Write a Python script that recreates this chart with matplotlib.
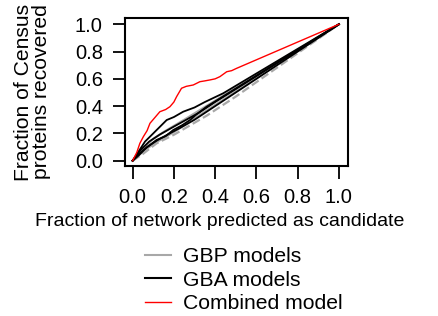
import matplotlib
matplotlib.use("Agg")
import matplotlib.pyplot as plt
from matplotlib.lines import Line2D

plt.rcParams['font.family'] = ['Liberation Sans', 'DejaVu Sans']

# combined model (red)
x_red = [0, 0.02, 0.035, 0.052, 0.07, 0.084, 0.11, 0.132, 0.16, 0.181, 0.2, 0.213,
         0.237, 0.26, 0.294, 0.326, 0.35, 0.375, 0.4, 0.423, 0.456, 0.48, 0.504, 1.0]
y_red = [0, 0.06, 0.127, 0.176, 0.22, 0.274, 0.32, 0.359, 0.375, 0.396, 0.43, 0.469,
         0.531, 0.545, 0.555, 0.579, 0.585, 0.592, 0.60, 0.616, 0.652, 0.66, 0.677, 1.0]

# GBA models (black)
gba_x = [
    [0, 0.03, 0.06, 0.1, 0.165, 0.2, 0.245, 0.3, 0.35, 0.439, 1],
    [0, 0.04, 0.08, 0.13, 0.2, 0.26, 0.32, 0.4, 1],
    [0, 0.052, 0.116, 0.16, 0.197, 0.24, 0.278, 0.31, 0.359, 1],
    [0, 0.03, 0.07, 0.12, 0.18, 0.23, 0.3, 0.36, 1],
]
gba_y = [
    [0, 0.07, 0.14, 0.2, 0.298, 0.32, 0.359, 0.39, 0.43, 0.494, 1],
    [0, 0.08, 0.14, 0.19, 0.25, 0.3, 0.35, 0.43, 1],
    [0, 0.078, 0.152, 0.18, 0.225, 0.26, 0.298, 0.34, 0.396, 1],
    [0, 0.04, 0.1, 0.15, 0.2, 0.24, 0.3, 0.36, 1],
]

# GBP models (grey), first one dashed
gbp_x = [
    [0, 0.05, 0.116, 0.2, 0.359, 0.5, 1],
    [0, 0.05, 0.1, 0.15, 0.25, 0.4, 1],
    [0, 0.06, 0.12, 0.2, 0.3, 1],
]
gbp_y = [
    [0, 0.05, 0.127, 0.19, 0.33, 0.47, 1],
    [0, 0.09, 0.16, 0.21, 0.3, 0.44, 1],
    [0, 0.08, 0.14, 0.21, 0.31, 1],
]
gbp_style = ['--', '-', '-']

ticks = [0.0, 0.2, 0.4, 0.6, 0.8, 1.0]
tick_labels = ['0.0', '0.2', '0.4', '0.6', '0.8', '1.0']

fig = plt.figure(figsize=(4.38, 3.16), dpi=100)
ax = fig.add_axes([125/438, 1-166/316, 223/438, 148/316])

for xs, ys, ls in zip(gbp_x, gbp_y, gbp_style):
    ax.plot(xs, ys, color='#a8a8a8', lw=1.6, ls=ls)
for xs, ys in zip(gba_x, gba_y):
    ax.plot(xs, ys, color='black', lw=1.3)
ax.plot(x_red, y_red, color='red', lw=1.0)

ax.set_xlim(-0.037, 1.044)
ax.set_ylim(-0.039, 1.046)
ax.set_xticks(ticks)
ax.set_xticklabels(tick_labels)
ax.set_yticks(ticks)
ax.set_yticklabels(tick_labels)
ax.tick_params(direction='out', length=9, width=1.3, labelsize=14.5, pad=7)
for sp in ax.spines.values():
    sp.set_linewidth(1.5)

fig.text(220/438, 1-222/316, 'Fraction of network predicted as candidate',
         ha='center', va='center', fontsize=14)
fig.text(32.5/438, 1-92/316, 'Fraction of Census\nproteins recovered',
         ha='center', va='center', rotation=90, fontsize=15.2, linespacing=0.95)

handles = [Line2D([], [], color='#a8a8a8', lw=1.5),
           Line2D([], [], color='black', lw=1.5),
           Line2D([], [], color='red', lw=1.0)]
fig.legend(handles, ['GBP models', 'GBA models', 'Combined model'],
           loc='upper left', bbox_to_anchor=(145/438, 1-247/316), frameon=False,
           fontsize=15.2, handlelength=1.25, handletextpad=0.55, labelspacing=0.22,
           borderpad=0, borderaxespad=0)

fig.savefig('out.png', dpi=100)
